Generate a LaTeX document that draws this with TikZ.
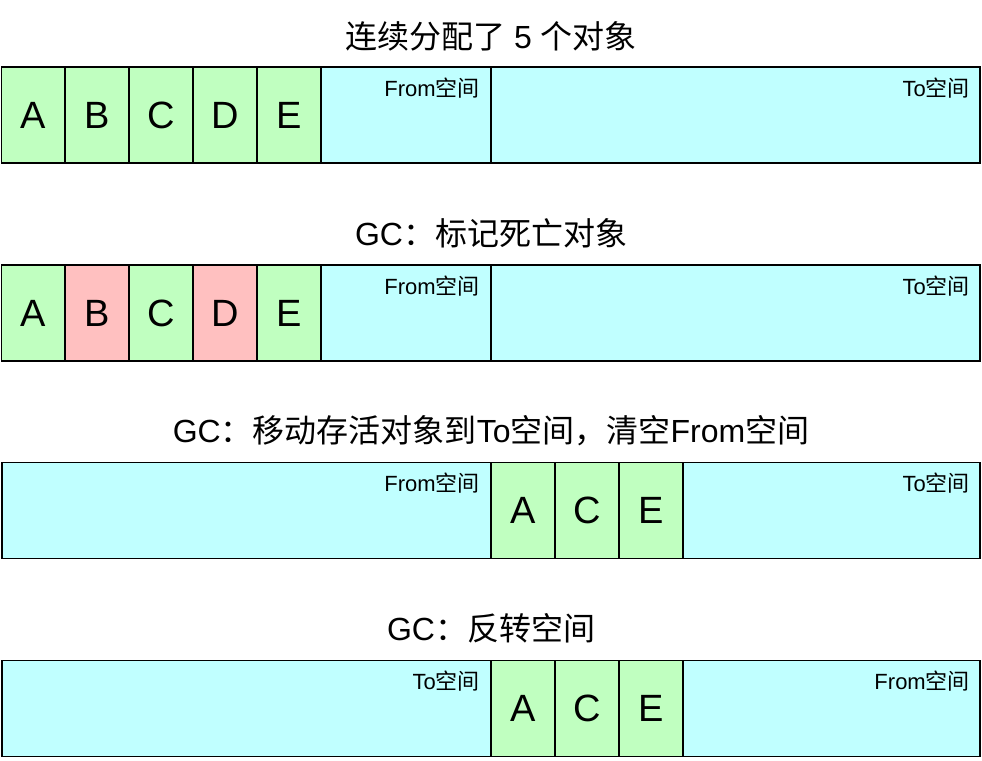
\documentclass[tikz,border=0pt]{standalone}
\usepackage{fontspec}
\setmainfont{Liberation Sans}
\newfontfamily\cjk{Noto Sans CJK SC}
\definecolor{livegreen}{HTML}{C0FFC0}
\definecolor{deadred}{HTML}{FFC0C0}
\definecolor{spacecyan}{HTML}{C0FFFF}
\tikzset{
  obj/.style = {draw = black, line width = 1.6pt, fill = livegreen,
    minimum width = 64pt, minimum height = 96pt, inner sep = 0pt,
    font = \fontsize{38}{42}\selectfont},
  dead/.style = {obj, fill = deadred},
  area/.style = {draw = black, line width = 1.6pt, fill = spacecyan,
    minimum height = 96pt, inner sep = 0pt},
  tag/.style = {anchor = base east, inner sep = 0pt,
    font = \fontsize{22}{24}\selectfont},
  heading/.style = {font = \fontsize{32}{36}\selectfont}
}
\begin{document}
\begin{tikzpicture}[x=1pt, y=-1pt]
    \useasboundingbox (0,0) rectangle (982,760);

    % row 1
    \node[heading] (t1) at (491,36) {{\cjk 连续分配了} 5 {\cjk 个对象}};
    \node[area, minimum width = 170pt] (from1) at (406,115) {};
    \node[area, minimum width = 489pt] (to1) at (735.5,115) {};
    \node[obj] (a1) at (33.5,115) {A};
    \node[obj] (b1) at (97,115) {B};
    \node[obj] (c1) at (161,115) {C};
    \node[obj] (d1) at (225,115) {D};
    \node[obj] (e1) at (289,115) {E};
    \node[tag] (lf1) at (480,96) {From{\cjk 空间}};
    \node[tag] (lt1) at (970,96) {To{\cjk 空间}};

    % row 2
    \node[heading] (t2) at (491,233) {GC{\cjk ：标记死亡对象}};
    \node[area, minimum width = 170pt] (from2) at (406,313) {};
    \node[area, minimum width = 489pt] (to2) at (735.5,313) {};
    \node[obj] (a2) at (33.5,313) {A};
    \node[dead] (b2) at (97,313) {B};
    \node[obj] (c2) at (161,313) {C};
    \node[dead] (d2) at (225,313) {D};
    \node[obj] (e2) at (289,313) {E};
    \node[tag] (lf2) at (480,294) {From{\cjk 空间}};
    \node[tag] (lt2) at (970,294) {To{\cjk 空间}};

    % row 3
    \node[heading] (t3) at (491,431) {GC{\cjk ：移动存活对象到}To{\cjk 空间，清空}From{\cjk 空间}};
    \node[area, minimum width = 489pt] (from3) at (246.5,510.5) {};
    \node[area, minimum width = 489pt] (to3) at (735.5,510.5) {};
    \node[obj] (a3) at (523,510.5) {A};
    \node[obj] (c3) at (587,510.5) {C};
    \node[obj] (e3) at (651,510.5) {E};
    \node[tag] (lf3) at (480,491) {From{\cjk 空间}};
    \node[tag] (lt3) at (970,491) {To{\cjk 空间}};

    % row 4
    \node[heading] (t4) at (491,628) {GC{\cjk ：反转空间}};
    \node[area, minimum width = 489pt] (to4) at (246.5,708.5) {};
    \node[area, minimum width = 489pt] (from4) at (735.5,708.5) {};
    \node[obj] (a4) at (523,708.5) {A};
    \node[obj] (c4) at (587,708.5) {C};
    \node[obj] (e4) at (651,708.5) {E};
    \node[tag] (lt4) at (480,689) {To{\cjk 空间}};
    \node[tag] (lf4) at (970,689) {From{\cjk 空间}};
\end{tikzpicture}
\end{document}
